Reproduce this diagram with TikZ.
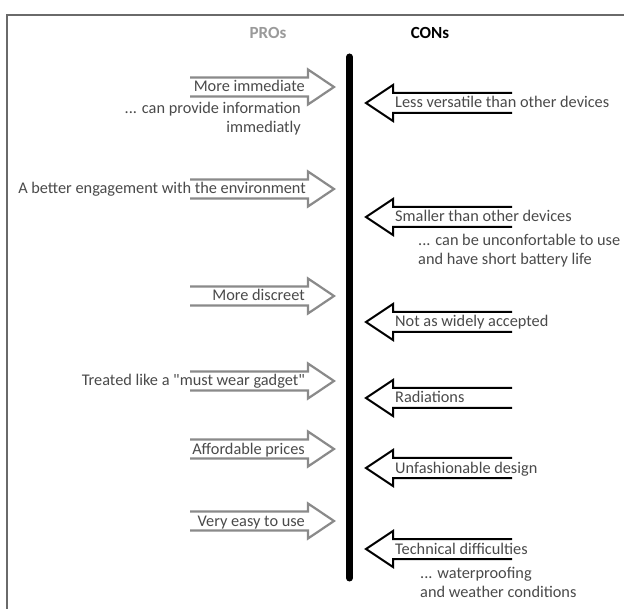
\documentclass[tikz,border=0pt]{standalone}
\usepackage{fontspec}
\setmainfont{Carlito}[Ligatures=TeXOff]
\definecolor{txtgray}{HTML}{4A4A4A}
\definecolor{progray}{HTML}{8A8A8A}
\definecolor{titlegray}{HTML}{9A9A9A}
\definecolor{framegray}{HTML}{6A6A6A}
\newcommand\ProArrow[1]{\draw[proarr, shift={(0,#1)}] (190,-9.5) -- (308,-9.5) -- (308,-17.5) -- (334,0) -- (308,17.5) -- (308,9.5) -- (190,9.5);}
\newcommand\ConArrow[1]{\draw[conarr, shift={(0,#1)}] (512,-10) -- (393,-10) -- (393,-18) -- (366,0) -- (393,18) -- (393,10) -- (512,10);}
\begin{document}
\begin{tikzpicture}[x=1pt,y=-1pt,
  proarr/.style={draw=progray, line width=2.2pt, line join=miter},
  conarr/.style={draw=black, line width=2pt, line join=miter},
  lbl/.style={font=\fontsize{16.3}{18.8}\selectfont, text=txtgray, inner sep=0pt},
  title/.style={font=\fontsize{17}{20}\selectfont\bfseries, inner sep=0pt}]
\useasboundingbox (0,0) rectangle (624,609);
\fill[white] (0,0) rectangle (624,609);
% frame
\draw[framegray, line width=2pt] (7,609) -- (7,15) -- (624,15);
% titles
\node[title, text=titlegray] (pros) at (268,33) {PROs};
\node[title, text=black] (cons) at (430,33) {CONs};
% central bar
\coordinate (bartop) at (349.5,57);
\coordinate (barbot) at (349.5,578);
\draw[line width=7pt, line cap=round] (bartop) -- (barbot);
% PRO arrows
\ProArrow{87}
\ProArrow{189}
\ProArrow{296}
\ProArrow{381}
\ProArrow{449}
\ProArrow{521}
% CON arrows
\ConArrow{103}
\ConArrow{217}
\ConArrow{322}
\ConArrow{398}
\ConArrow{468}
\ConArrow{549}
% PRO labels
\node[lbl, anchor=base east] (p1) at (305,92) {More immediate};
\node[lbl, anchor=north east, align=right] (p1s) at (301,102) {... can provide information\\immediatly};
\node[lbl, anchor=base east] (p2) at (306,194) {A better engagement with the environment};
\node[lbl, anchor=base east] (p3) at (305,301) {More discreet};
\node[lbl, anchor=base east] (p4) at (305,386) {Treated like a "must wear gadget"};
\node[lbl, anchor=base east] (p5) at (305,454) {Affordable prices};
\node[lbl, anchor=base east] (p6) at (305,526) {Very easy to use};
% CON labels
\node[lbl, anchor=base west] (c1) at (395,108) {Less versatile than other devices};
\node[lbl, anchor=base west] (c2) at (395,222) {Smaller than other devices};
\node[lbl, anchor=north west, align=left] (c2s) at (418,234) {... can be unconfortable to use\\and have short battery life};
\node[lbl, anchor=base west] (c3) at (395,327) {Not as widely accepted};
\node[lbl, anchor=base west] (c4) at (395,403) {Radiations};
\node[lbl, anchor=base west] (c5) at (395,473) {Unfashionable design};
\node[lbl, anchor=base west] (c6) at (395,554) {Technical difficulties};
\node[lbl, anchor=north west, align=left] (c6s) at (420,567) {... waterproofing\\and weather conditions};
\end{tikzpicture}
\end{document}
